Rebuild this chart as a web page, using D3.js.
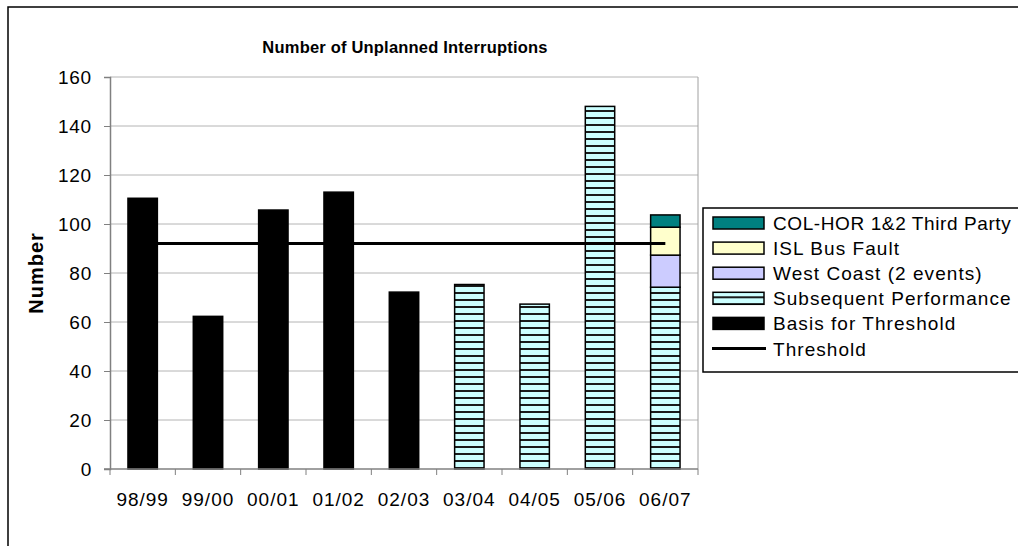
<!DOCTYPE html>
<html>
<head>
<meta charset="utf-8">
<script src="https://cdn.jsdelivr.net/npm/d3@7"></script>
<style>
  body { margin: 0; background: #fff; }
  text { font-family: Arial, "Liberation Sans", sans-serif; }
</style>
</head>
<body>
<svg width="1018" height="546"></svg>
<script>
// data
var years = ["98/99", "99/00", "00/01", "01/02", "02/03", "03/04", "04/05", "05/06", "06/07"];
var basis = [110.5, 62.3, 105.7, 113, 72.2, 0, 0, 0, 0];
var subsequent = [0, 0, 0, 0, 0, 75.3, 67.3, 148, 74.2];
var westCoast = [0, 0, 0, 0, 0, 0, 0, 0, 13.1];
var islBus = [0, 0, 0, 0, 0, 0, 0, 0, 11.4];
var colHor = [0, 0, 0, 0, 0, 0, 0, 0, 5];
var threshold = 92;
var yTicks = [0, 20, 40, 60, 80, 100, 120, 140, 160];

var svg = d3.select("svg"),
    margin = {top: 77, right: 320, bottom: 77, left: 110},
    width = 698 - margin.left,
    height = 469 - margin.top;

// outer chart border (runs off the right and bottom)
svg.append("rect")
    .attr("x", 8).attr("y", 7)
    .attr("width", 1030).attr("height", 560)
    .attr("fill", "none")
    .attr("stroke", "#000")
    .attr("stroke-width", 1.5);

var defs = svg.append("defs");
var pat = defs.append("pattern")
    .attr("id", "stripes")
    .attr("patternUnits", "userSpaceOnUse")
    .attr("width", 8).attr("height", 7);
pat.append("rect").attr("width", 8).attr("height", 7).attr("fill", "#ccffff");
pat.append("rect").attr("y", 5).attr("width", 8).attr("height", 2).attr("fill", "#1a1a1a");

var g = svg.append("g")
    .attr("transform", "translate(" + margin.left + "," + margin.top + ")");

var x = d3.scaleBand().domain(years).range([0, width]).paddingInner(0.55).paddingOuter(0.275);
var y = d3.scaleLinear().domain([0, 160]).range([height, 0]);

// gridlines
g.selectAll(".grid")
    .data(yTicks.slice(1))
    .enter().append("line")
    .attr("x1", 0).attr("x2", width)
    .attr("y1", function(d) { return y(d); })
    .attr("y2", function(d) { return y(d); })
    .attr("stroke", "#b4b4b4")
    .attr("stroke-width", 1);

// plot area right edge
g.append("line")
    .attr("x1", width).attr("x2", width)
    .attr("y1", 0).attr("y2", height)
    .attr("stroke", "#a0a0a0");

var keys = ["basis", "subsequent", "westCoast", "islBus", "colHor"];
var fills = {
    basis: "#000000",
    subsequent: "url(#stripes)",
    westCoast: "#ccccff",
    islBus: "#ffffcc",
    colHor: "#008080"
};

var table = years.map(function(yr, i) {
    return {year: yr, basis: basis[i], subsequent: subsequent[i],
        westCoast: westCoast[i], islBus: islBus[i], colHor: colHor[i]};
});
var series = d3.stack().keys(keys)(table);

series.forEach(function(s) {
    g.selectAll(".bar-" + s.key)
        .data(s.filter(function(d) { return d[1] - d[0] > 0; }))
        .enter().append("rect")
        .attr("x", function(d) { return x(d.data.year); })
        .attr("y", function(d) { return y(d[1]); })
        .attr("width", x.bandwidth())
        .attr("height", function(d) { return y(d[0]) - y(d[1]); })
        .attr("fill", fills[s.key])
        .attr("stroke", "#000")
        .attr("stroke-width", 1.5);
});

// threshold line
g.append("line")
    .attr("x1", x(years[0]) + x.bandwidth() / 2)
    .attr("x2", x(years[years.length - 1]) + x.bandwidth() / 2)
    .attr("y1", y(threshold))
    .attr("y2", y(threshold))
    .attr("stroke", "#000")
    .attr("stroke-width", 3);

// axes
var yAxis = g.append("g")
    .call(d3.axisLeft(y).tickValues(yTicks).tickSize(6).tickPadding(12).tickFormat(d3.format("d")));
yAxis.select(".domain").attr("stroke", "#808080").attr("stroke-width", 1.5);
yAxis.selectAll(".tick line").attr("stroke", "#808080");
yAxis.selectAll("text").attr("font-size", "19px").attr("letter-spacing", "0.8px").attr("fill", "#000");

var xAxis = g.append("g")
    .attr("transform", "translate(0," + height + ")");
xAxis.append("line")
    .attr("x1", -6).attr("x2", width)
    .attr("stroke", "#808080").attr("stroke-width", 1.5);
xAxis.selectAll(".xtick")
    .data(d3.range(years.length + 1))
    .enter().append("line")
    .attr("x1", function(i) { return i * x.step(); })
    .attr("x2", function(i) { return i * x.step(); })
    .attr("y1", 0).attr("y2", 6)
    .attr("stroke", "#808080");
xAxis.selectAll(".xlabel")
    .data(years)
    .enter().append("text")
    .attr("x", function(d) { return x(d) + x.bandwidth() / 2; })
    .attr("y", 37)
    .attr("text-anchor", "middle")
    .attr("font-size", "19px")
    .attr("letter-spacing", "1px")
    .text(function(d) { return d; });

// title + y label
svg.append("text")
    .attr("x", 405).attr("y", 53)
    .attr("text-anchor", "middle")
    .attr("font-size", "16.5px")
    .attr("font-weight", "bold")
    .attr("letter-spacing", "0.2px")
    .text("Number of Unplanned Interruptions");

svg.append("text")
    .attr("transform", "translate(43,273) rotate(-90)")
    .attr("text-anchor", "middle")
    .attr("font-size", "20px")
    .attr("font-weight", "bold")
    .attr("letter-spacing", "1px")
    .text("Number");

// legend
var legendItems = [
    {label: "COL-HOR 1&2 Third Party", key: "colHor"},
    {label: "ISL Bus Fault", key: "islBus"},
    {label: "West Coast (2 events)", key: "westCoast"},
    {label: "Subsequent Performance", key: "subsequent"},
    {label: "Basis for Threshold", key: "basis"},
    {label: "Threshold", key: "line"}
];
var legend = svg.append("g").attr("transform", "translate(703,208)");
legend.append("rect")
    .attr("width", 340).attr("height", 164)
    .attr("fill", "#fff")
    .attr("stroke", "#000")
    .attr("stroke-width", 1.5);
var rows = legend.selectAll(".row")
    .data(legendItems)
    .enter().append("g")
    .attr("transform", function(d, i) { return "translate(0," + (15 + i * 25.1) + ")"; });
rows.each(function(d) {
    var r = d3.select(this);
    if (d.key === "line") {
        r.append("line").attr("x1", 9).attr("x2", 63).attr("y1", 0).attr("y2", 0)
            .attr("stroke", "#000").attr("stroke-width", 3);
    } else {
        r.append("rect").attr("x", 10).attr("y", -6).attr("width", 51).attr("height", 12)
            .attr("fill", fills[d.key]).attr("stroke", "#000").attr("stroke-width", 1.5);
    }
});
rows.append("text")
    .attr("x", 70)
    .attr("y", 7)
    .attr("font-size", "19px")
    .attr("letter-spacing", function(d) { return d.key === "colHor" ? "0.6px" : "1.05px"; })
    .text(function(d) { return d.label; });
</script>
</body>
</html>
